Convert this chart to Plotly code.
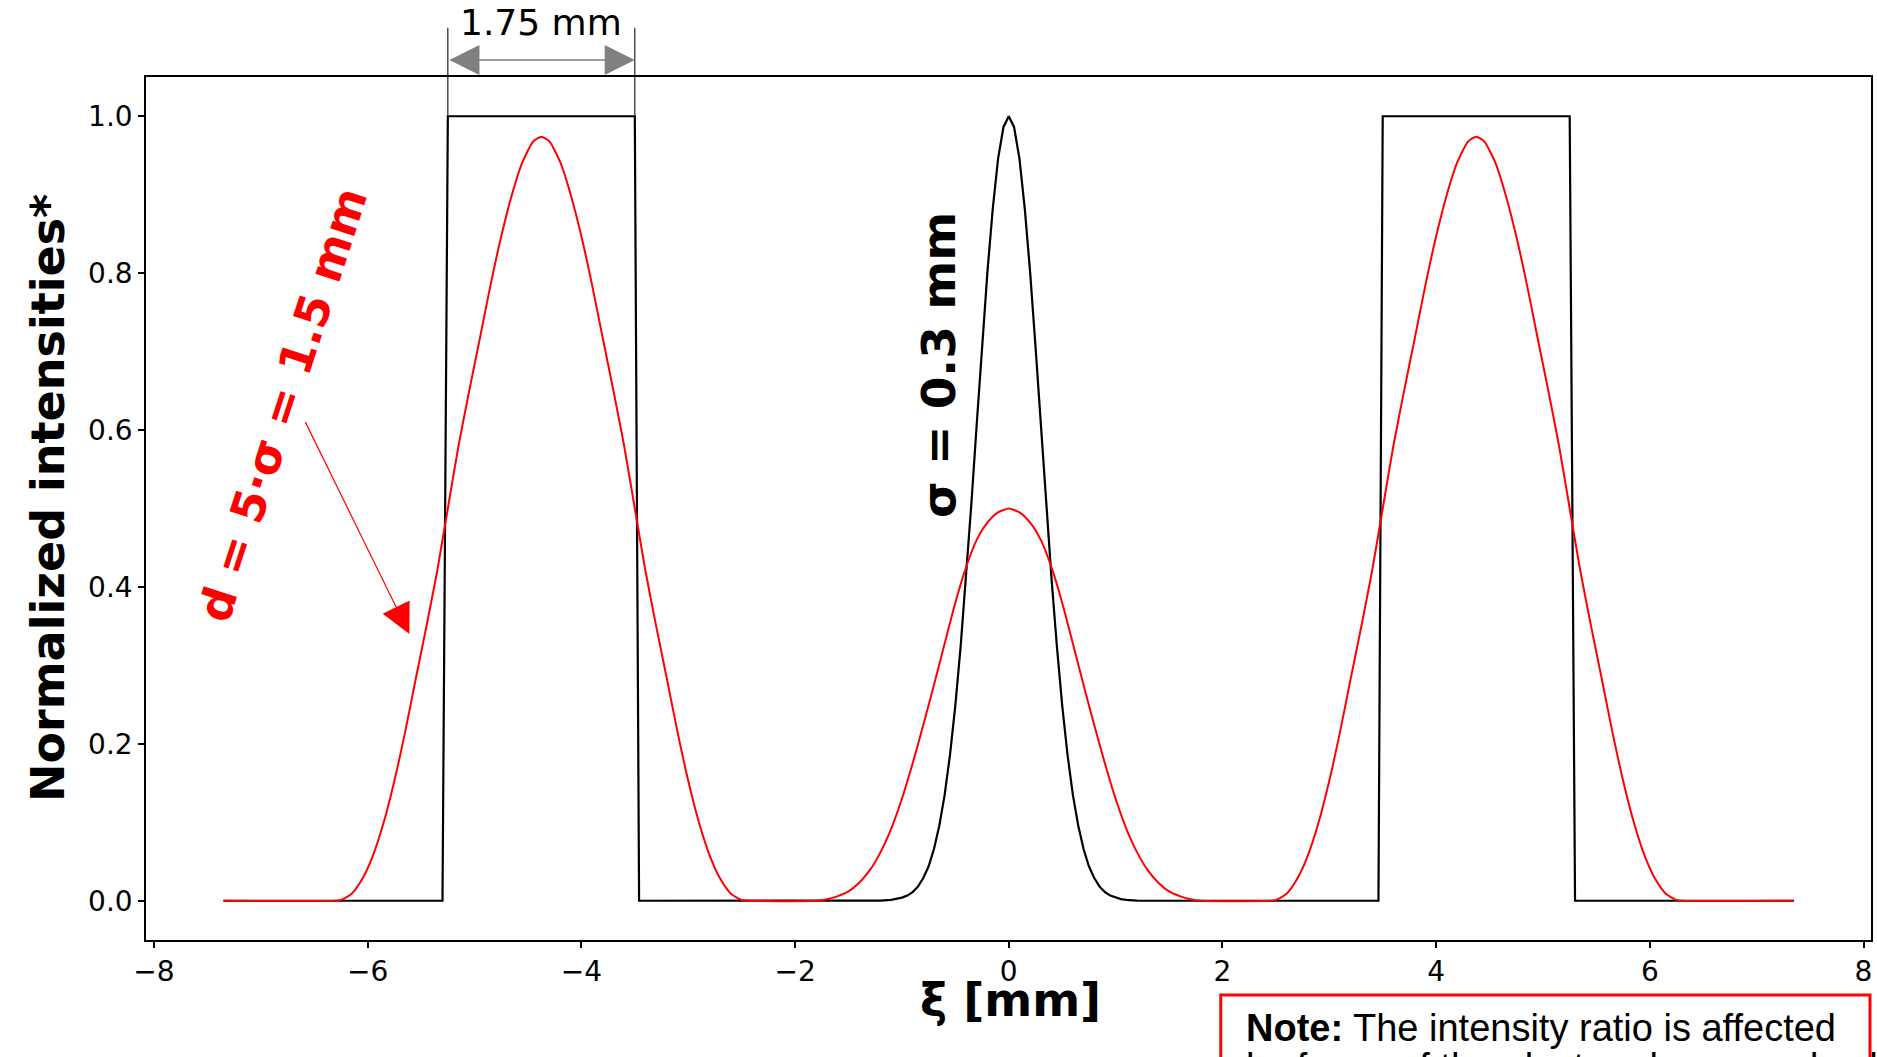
import plotly.graph_objects as go

# ---------------- data ----------------
x_ticks = [-8, -6, -4, -2, 0, 2, 4, 6, 8]
y_ticks = [0.0, 0.2, 0.4, 0.6, 0.8, 1.0]

# black: two rectangular slits (width 1.75 mm) + central Gaussian (sigma = 0.3 mm)
black_x = [-7.35, -5.30, -5.25, -3.50, -3.46,
           -1.40, -1.20, -1.10, -1.05, -1.00, -0.95, -0.90, -0.85, -0.80, -0.75, -0.70,
           -0.65, -0.60, -0.55, -0.50, -0.45, -0.40, -0.35, -0.30, -0.25, -0.20,
           -0.15, -0.10, -0.05, 0.00, 0.05, 0.10, 0.15, 0.20, 0.25, 0.30, 0.35,
           0.40, 0.45, 0.50, 0.55, 0.60, 0.65, 0.70, 0.75, 0.80, 0.85, 0.90,
           0.95, 1.00, 1.05, 1.10, 1.20, 1.40,
           3.46, 3.50, 5.25, 5.30, 7.35]
black_y = [0.0, 0.0, 1.0, 1.0, 0.0,
           0.0, 0.0003, 0.0012, 0.0022, 0.004, 0.0066, 0.011, 0.018, 0.029, 0.044, 0.066,
           0.096, 0.135, 0.186, 0.249, 0.325, 0.411, 0.506, 0.607, 0.707, 0.801,
           0.882, 0.946, 0.986, 1.0, 0.986, 0.946, 0.882, 0.801, 0.707, 0.607, 0.506,
           0.411, 0.325, 0.249, 0.186, 0.135, 0.096, 0.066, 0.044, 0.029, 0.018, 0.011,
           0.0066, 0.004, 0.0022, 0.0012, 0.0003, 0.0,
           0.0, 1.0, 1.0, 0.0, 0.0]

# red: smeared profile, left hump / centre / right hump
red_left_x = [-7.35, -6.30, -6.25, -6.15, -6.05, -5.95, -5.85, -5.75, -5.65, -5.55, -5.45,
              -5.35, -5.25, -5.15, -5.05, -4.95, -4.85, -4.75, -4.65, -4.55, -4.45,
              -4.375, -4.30, -4.20, -4.10, -4.00, -3.90, -3.80, -3.70, -3.60, -3.50,
              -3.40, -3.30, -3.20, -3.10, -3.00, -2.90, -2.80, -2.70, -2.60, -2.50, -2.45]
red_left_y = [0.0, 0.0, 0.001, 0.009, 0.028, 0.058, 0.100, 0.153, 0.215, 0.283, 0.350,
              0.420, 0.500, 0.580, 0.650, 0.717, 0.785, 0.847, 0.900, 0.942, 0.968,
              0.974, 0.968, 0.942, 0.900, 0.847, 0.785, 0.717, 0.650, 0.580, 0.500,
              0.420, 0.350, 0.283, 0.215, 0.153, 0.100, 0.058, 0.028, 0.009, 0.001, 0.0]
red_mid_x = [-1.80, -1.70, -1.60, -1.50, -1.40, -1.30, -1.20, -1.10, -1.00, -0.90,
             -0.80, -0.70, -0.60, -0.50, -0.40, -0.30, -0.20, -0.10, 0.00,
             0.10, 0.20, 0.30, 0.40, 0.50, 0.60, 0.70, 0.80, 0.90, 1.00,
             1.10, 1.20, 1.30, 1.40, 1.50, 1.60, 1.70, 1.80]
red_mid_y = [0.0, 0.002, 0.006, 0.012, 0.023, 0.039, 0.062, 0.092, 0.130, 0.175,
             0.224, 0.275, 0.328, 0.380, 0.425, 0.460, 0.482, 0.495, 0.500,
             0.495, 0.482, 0.460, 0.425, 0.380, 0.328, 0.275, 0.224, 0.175, 0.130,
             0.092, 0.062, 0.039, 0.023, 0.012, 0.006, 0.002, 0.0]
red_right_x = [2.45, 2.50, 2.60, 2.70, 2.80, 2.90, 3.00, 3.10, 3.20, 3.30, 3.40,
               3.50, 3.60, 3.70, 3.80, 3.90, 4.00, 4.10, 4.20, 4.30,
               4.375, 4.45, 4.55, 4.65, 4.75, 4.85, 4.95, 5.05, 5.15, 5.25,
               5.35, 5.45, 5.55, 5.65, 5.75, 5.85, 5.95, 6.05, 6.15, 6.25, 6.30, 7.35]
red_right_y = [0.0, 0.001, 0.009, 0.028, 0.058, 0.100, 0.153, 0.215, 0.283, 0.350, 0.420,
               0.500, 0.580, 0.650, 0.717, 0.785, 0.847, 0.900, 0.942, 0.968,
               0.974, 0.968, 0.942, 0.900, 0.847, 0.785, 0.717, 0.650, 0.580, 0.500,
               0.420, 0.350, 0.283, 0.215, 0.153, 0.100, 0.058, 0.028, 0.009, 0.001, 0.0, 0.0]

slit_left = [-5.25, -3.50]      # slit edges used by the "1.75 mm" dimension marks
red_arrow_head = (-5.61, 0.34)
red_arrow_tail = (-6.59, 0.612)

# ---------------- layout helpers ----------------
W, H = 1877, 1057
ML, MR, MT, MB = 146, 4, 77, 117
PW, PH = W - ML - MR, H - MT - MB
X_RANGE = [-8.075, 8.07]
Y_RANGE = [-0.05, 1.05]


def xp(px):
    return (px - ML) / PW


def yp(py):
    return (H - MB - py) / PH


FONT = "DejaVu Sans"

fig = go.Figure()
fig.add_trace(go.Scatter(x=black_x, y=black_y, mode="lines",
                         line=dict(color="black", width=2.2),
                         showlegend=False, hoverinfo="skip"))
fig.add_trace(go.Scatter(x=red_left_x + red_mid_x + red_right_x,
                         y=red_left_y + red_mid_y + red_right_y, mode="lines",
                         line=dict(color="#ff0000", width=2, shape="spline", smoothing=0.6),
                         showlegend=False, hoverinfo="skip"))

axis_common = dict(ticks="outside", ticklen=6, tickwidth=1.5, tickcolor="black",
                   showline=True, linecolor="black", linewidth=1.5, mirror=True,
                   showgrid=False, zeroline=False,
                   tickfont=dict(family=FONT, size=28, color="black"))
fig.update_xaxes(range=X_RANGE, tickvals=x_ticks, **axis_common)
fig.update_yaxes(range=Y_RANGE, tickvals=y_ticks, tickformat=".1f", **axis_common)

annotations = [
    # axis titles
    dict(xref="paper", yref="paper", x=xp(48), y=yp(498), text="<b>Normalized intensities*</b>",
         textangle=-90, showarrow=False, xanchor="center", yanchor="middle",
         font=dict(family=FONT, size=46, color="black")),
    dict(xref="paper", yref="paper", x=xp(1012), y=yp(1000), text="<b>ξ [mm]</b>",
         showarrow=False, xanchor="center", yanchor="middle",
         font=dict(family=FONT, size=46, color="black")),
    # sigma label
    dict(xref="paper", yref="paper", x=xp(940), y=yp(365), text="<b>σ = 0.3 mm</b>",
         textangle=-90, showarrow=False, xanchor="center", yanchor="middle",
         font=dict(family=FONT, size=47, color="black")),
    # red label
    dict(xref="paper", yref="paper", x=xp(283), y=yp(404), text="<b>d = 5·σ = 1.5 mm</b>",
         textangle=-72, showarrow=False, xanchor="center", yanchor="middle",
         font=dict(family=FONT, size=46, color="#ff0000")),
    # red arrow
    dict(xref="x", yref="y", x=red_arrow_head[0], y=red_arrow_head[1],
         axref="x", ayref="y", ax=red_arrow_tail[0], ay=red_arrow_tail[1],
         text="", showarrow=True, arrowhead=2, arrowsize=5, arrowwidth=1.2,
         arrowcolor="#ff0000"),
    # dimension lines
    dict(xref="x", yref="y", x=slit_left[0], y=1.0, ax=0, ay=-90, text="",
         showarrow=True, arrowhead=0, arrowwidth=1.2, arrowcolor="#222222"),
    dict(xref="x", yref="y", x=slit_left[1], y=1.0, ax=0, ay=-90, text="",
         showarrow=True, arrowhead=0, arrowwidth=1.2, arrowcolor="#222222"),
    # double arrow
    dict(xref="x", yref="paper", x=slit_left[1], y=yp(60),
         axref="x", ayref="pixel", ax=slit_left[0], ay=0, text="",
         showarrow=True, arrowhead=2, startarrowhead=2, arrowside="end+start",
         arrowsize=4.3, startarrowsize=4.3, arrowwidth=1.4, arrowcolor="#808080"),
    dict(xref="x", yref="paper", x=sum(slit_left) / 2, y=yp(22), text="1.75 mm",
         showarrow=False, xanchor="center", yanchor="middle",
         font=dict(family=FONT, size=36, color="black")),
    # note text
    dict(xref="paper", yref="paper", x=xp(1245), y=yp(1028),
         text="<b>Note:</b> The intensity ratio is affected",
         showarrow=False, xanchor="left", yanchor="middle",
         font=dict(family="Liberation Sans", size=38, color="black")),
    dict(xref="paper", yref="paper", x=xp(1245), y=yp(1067),
         text="by focus of the electron beam and colli",
         showarrow=False, xanchor="left", yanchor="middle",
         font=dict(family="Liberation Sans", size=38, color="black")),
]

shapes = [
    dict(type="rect", xref="paper", yref="paper", x0=xp(1222), x1=xp(1872),
         y0=yp(995), y1=yp(1120), line=dict(color="#ff0000", width=3),
         fillcolor="rgba(0,0,0,0)", layer="above"),
]

fig.update_layout(width=W, height=H, margin=dict(l=ML, r=MR, t=MT, b=MB, pad=0),
                  paper_bgcolor="white", plot_bgcolor="white",
                  annotations=annotations, shapes=shapes, showlegend=False,
                  font=dict(family=FONT, color="black"))

fig.write_html("out.html", config={"displayModeBar": False},
               post_script="document.body.style.margin='0';document.body.style.overflow='hidden';")
